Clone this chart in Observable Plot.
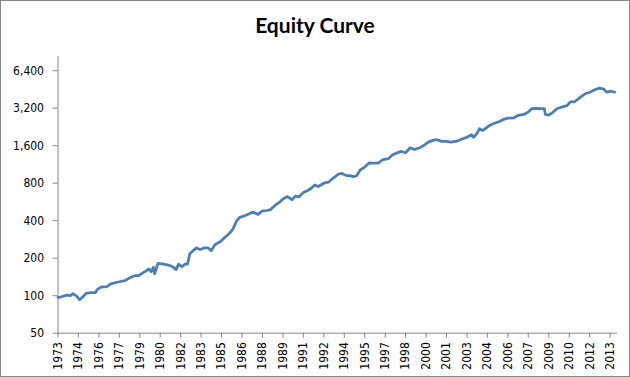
<!DOCTYPE html>
<html><head><meta charset="utf-8">
<script src="https://cdn.jsdelivr.net/npm/d3@7"></script>
<script src="https://cdn.jsdelivr.net/npm/@observablehq/plot@0.6"></script>
<style>
html,body{margin:0;padding:0;background:#fff;}
#chart{position:relative;width:630px;height:377px;overflow:hidden;background:#fff;}
#title{height:46px;box-sizing:border-box;padding-top:13px;text-align:center;font-family:Lato,"Open Sans",sans-serif;font-weight:bold;font-size:21px;line-height:24px;color:#000;}
#border{position:absolute;left:0;top:0;width:630px;height:377px;box-sizing:border-box;border:1px solid #868686;pointer-events:none;}
svg{display:block}
</style></head>
<body><div id="chart"><div id="title">Equity Curve</div><div id="border"></div></div>
<script>
const dates = ["1973-01","1973-04","1973-09","1973-12","1974-02","1974-05","1974-08","1974-11","1975-02","1975-07","1975-10","1975-12","1976-03","1976-08","1976-11","1977-03","1977-08","1977-12","1978-04","1978-09","1978-12","1979-03","1979-07","1979-09","1979-11","1980-01","1980-02","1980-05","1980-10","1981-02","1981-04","1981-06","1981-09","1981-11","1982-02","1982-05","1982-07","1982-09","1982-12","1983-03","1983-06","1983-10","1984-01","1984-04","1984-07","1984-12","1985-04","1985-08","1985-11","1986-02","1986-05","1986-10","1987-02","1987-05","1987-09","1988-01","1988-05","1988-08","1988-11","1988-12","1989-04","1989-07","1989-11","1990-03","1990-06","1990-09","1991-01","1991-05","1991-08","1991-11","1992-02","1992-07","1992-11","1993-03","1993-08","1993-11","1994-03","1994-06","1994-09","1994-12","1995-03","1995-07","1995-11","1996-02","1996-07","1996-08","1996-11","1997-04","1997-07","1997-11","1998-03","1998-07","1998-11","1999-03","1999-08","1999-11","2000-03","2000-07","2000-10","2001-03","2001-07","2001-11","2002-04","2002-08","2003-01","2003-05","2003-07","2003-10","2003-12","2004-03","2004-08","2004-12","2005-05","2005-09","2006-01","2006-06","2006-10","2007-03","2007-07","2007-10","2008-02","2008-07","2008-09","2008-10","2009-01","2009-04","2009-08","2009-12","2010-05","2010-08","2010-12","2011-05","2011-09","2012-01","2012-06","2012-09","2013-01","2013-04","2013-08","2013-11"];
const values = [97,98,101,100,104,100,93,98,105,106,106,113,117,118,124,127,130,132,139,145,145,151,159,164,156,169,150,182,179,176,174,171,162,179,171,179,179,217,230,242,235,242,242,230,256,272,295,317,343,396,425,440,458,469,449,479,483,491,520,530,563,598,625,590,630,621,675,700,729,775,752,800,815,876,948,958,920,920,900,920,1021,1078,1165,1157,1157,1180,1235,1260,1340,1395,1440,1405,1540,1490,1550,1605,1710,1765,1790,1735,1735,1710,1740,1800,1870,1960,1870,2016,2190,2120,2300,2400,2490,2600,2660,2670,2800,2850,2980,3170,3190,3170,3170,2850,2810,2930,3170,3260,3360,3600,3620,3920,4180,4300,4520,4630,4580,4300,4380,4300];
const xTicks = ["1973-01","1974-07","1976-01","1977-07","1979-01","1980-07","1982-01","1983-07","1985-01","1986-07","1988-01","1989-07","1991-01","1992-07","1994-01","1995-07","1997-01","1998-07","2000-01","2001-07","2003-01","2004-07","2006-01","2007-07","2009-01","2010-07","2012-01","2013-07"];
const yTicks = [50,100,200,400,800,1600,3200,6400];
const yTickLabels = ["50","100","200","400","800","1,600","3,200","6,400"];
const xDomain = ["1973-01","2013-12"];
const yDomain = [50, 8320];

const parse = d3.utcParse("%Y-%m");
const data = dates.map((d, i) => ({date: parse(d), value: values[i]}));
const yLab = yTicks.map((v, i) => ({value: v, label: yTickLabels[i]}));
const axisGray = "#868686";

const plot = Plot.plot({
  width: 630, height: 331,
  marginLeft: 57.5, marginRight: 14, marginTop: 10, marginBottom: 44.3,
  style: {fontFamily: "'DejaVu Sans Condensed', 'Liberation Sans', sans-serif", fontSize: "12px", color: "#000", background: "transparent", overflow: "visible"},
  x: {type: "utc", domain: [parse(xDomain[0]), d3.utcDay.offset(parse(xDomain[1]), 18)]},
  y: {type: "log", domain: yDomain},
  marks: [
    Plot.frame({anchor: "left", stroke: axisGray}),
    Plot.frame({anchor: "bottom", stroke: axisGray}),
    Plot.axisY(yTicks, {text: null, tickSize: 5, stroke: axisGray, label: null}),
    Plot.text(yLab, {y: "value", text: "label", frameAnchor: "left", dx: -14, textAnchor: "end", fill: "#000", fontSize: 12}),
    Plot.axisX(xTicks.map(parse), {tickFormat: d3.utcFormat("%Y"), tickRotate: -90, tickSize: 5, tickPadding: 4, stroke: axisGray, label: null}),
    Plot.lineY(data, {x: "date", y: "value", stroke: "#4a7ebb", strokeWidth: 2.75, strokeLinejoin: "round"})
  ]
});
document.getElementById("chart").insertBefore(plot, document.getElementById("border"));
</script>
</body></html>
